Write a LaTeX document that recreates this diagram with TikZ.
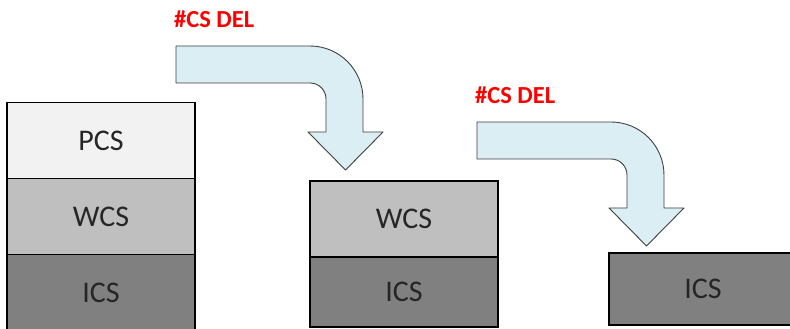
\documentclass[tikz,border=0pt]{standalone}
\usepackage{fontspec}
\setmainfont{Carlito}
\usepackage{tikz}
\usetikzlibrary{positioning}
\definecolor{pcsgray}{HTML}{F2F2F2}
\definecolor{wcsgray}{HTML}{BFBFBF}
\definecolor{icsgray}{HTML}{808080}
\definecolor{arrowblue}{HTML}{DAEEF3}
\definecolor{arrowline}{HTML}{3F3F3F}
\definecolor{delred}{HTML}{FF0000}

\begin{document}
\begin{tikzpicture}[x=1pt, y=1pt,
  layer/.style={draw=black, line width=1.6pt, outer sep=0pt, minimum width=188pt,
    minimum height=76pt, font=\fontsize{30}{33}\selectfont, text=black!85},
  bentarrow/.style={draw=arrowline, fill=arrowblue, line width=0.9pt, line join=round},
  dellabel/.style={text=delred, font=\fontsize{24.5}{27}\selectfont\bfseries, inner sep=0pt}]
  \clip (0,0) rectangle (790,329);
  % left stack: all three layers
  \node[layer, fill=pcsgray] (pcsA) at (101,188.5) {PCS};
  \node[layer, fill=wcsgray, below=0pt of pcsA] (wcsA) {WCS};
  \node[layer, fill=icsgray, below=0pt of wcsA] (icsA) {ICS};
  % middle stack: PCS gone
  \node[layer, fill=wcsgray] (wcsB) at (404,110) {WCS};
  \node[layer, fill=icsgray, minimum height=70pt, below=0pt of wcsB] (icsB) {ICS};
  % right stack: only ICS left
  \node[layer, fill=icsgray, minimum height=72pt] (icsC) at (703,40) {ICS};

  % bent "delete" arrows (shaft top-left corner given)
  \coordinate (Aone) at (176,283);
  \coordinate (Atwo) at (477,207);
  \foreach \nm in {one,two}{
    \draw[bentarrow] (A\nm) -- ++(134,0)
      arc[start angle=90, end angle=0, radius=53] -- ++(0,-33)
      -- ++(20,0) -- ++(-37.5,-38) -- ++(-37.5,38) -- ++(18,0) -- ++(0,33)
      arc[start angle=0, end angle=90, radius=16] -- ++(-134,0) -- cycle;
    \node[dellabel, anchor=west] (del\nm) at ([shift={(-2,27)}]A\nm) {\#CS DEL};
  }
\end{tikzpicture}
\end{document}
